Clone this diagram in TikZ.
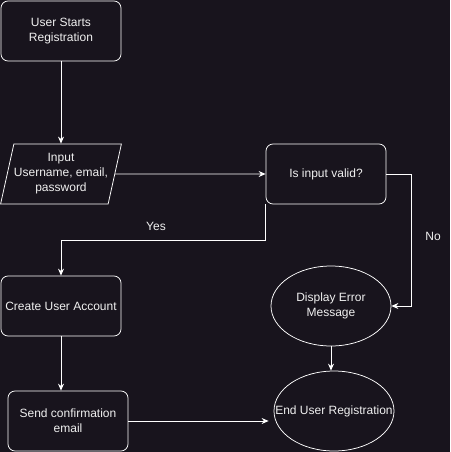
\documentclass[tikz,border=0pt]{standalone}
\usepackage{fontspec}
\setmainfont{Liberation Sans}
\usetikzlibrary{arrows.meta,shapes.geometric}
\definecolor{bgdark}{HTML}{18141D}
\definecolor{txtgrey}{HTML}{F0F0F0}

\begin{document}
\begin{tikzpicture}[x=1pt,y=-1pt,-{Stealth[length=7pt,width=6pt]},line width=0.75pt,
  every node/.style={text=txtgrey,font=\fontsize{12}{15}\selectfont,align=center},
  box/.style={draw=white,rounded corners=7pt,minimum width=120pt,minimum height=60pt,inner sep=1pt},
  inbox/.style={draw=white,trapezium,trapezium left angle=72,trapezium right angle=108,
    trapezium stretches=true,minimum width=121pt,minimum height=60pt,inner sep=0pt},
  blob/.style={draw=white,ellipse,minimum width=120pt,minimum height=80pt,inner sep=0pt}]
  \fill[bgdark,-] (0,0) rectangle (450,452);
  \useasboundingbox (0,0) rectangle (450,452);

  \node[box]   (start)  at (61,31)   {User Starts\\Registration};
  \node[inbox] (input)  at (61,174)  {Input\\Username, email,\\password};
  \node[box]   (valid)  at (326,174) {Is input valid?};
  \node[box]   (create) at (61,306)  {Create User Account};
  \node[box]   (send)   at (68,421)  {Send confirmation\\email};
  \node[blob,label=center:{Display Error\\Message}]  (error)  at (331,306) {};
  \node[blob,label=center:{End User Registration}]   (finish) at (334,411) {};

  \path[white] (start)  edge (input)
        (input)  edge (valid)
        (create.south) edge (create.south |- send.north)
        (error.south)  edge (error.south |- finish.north)
        (send.east)    edge ([xshift=-5pt]send.east -| finish.west);

  \draw[white] (valid.south west) -- ++(0,36) -| (create.north);
  \draw[white] (valid.east) -- ++(25,0) |- (error.east);

  \node (yes) at (156,226) {Yes};
  \node (no)  at (433,236) {No};
\end{tikzpicture}
\end{document}
